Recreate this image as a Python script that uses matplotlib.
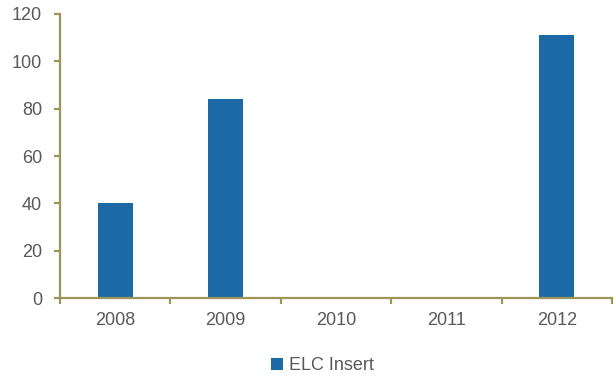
import numpy as np
import matplotlib.pyplot as plt
from matplotlib.patches import Patch

plt.rcParams['font.family'] = ['Liberation Sans', 'DejaVu Sans']

# data
years = ['2008', '2009', '2010', '2011', '2012']
elc_insert = [40, 84, 0, 0, 111]

bar_col = '#1B6AA5'
axis_col = '#9D9457'
text_col = '#595959'

fig = plt.figure(figsize=(6.16, 3.78), dpi=100)
ax = fig.add_axes([0.0974, 0.2116, 0.8961, 0.7514])

x = np.arange(len(years))
ax.bar(x, elc_insert, width=0.32, color=bar_col)

ax.set_xlim(-0.5, len(years) - 0.5)
ax.set_ylim(0, 120)
ax.set_yticks(np.arange(0, 121, 20))

# tick marks at category boundaries, labels at centres
ax.set_xticks(np.arange(len(years) + 1) - 0.5)
ax.set_xticklabels([])
ax.set_xticks(x, minor=True)
ax.set_xticklabels(years, minor=True)

for s in ['top', 'right']:
    ax.spines[s].set_visible(False)
for s in ['left', 'bottom']:
    ax.spines[s].set_color(axis_col)
    ax.spines[s].set_linewidth(1.6)

ax.tick_params(axis='y', which='major', length=4, width=1.6, color=axis_col,
               labelcolor=text_col, labelsize=13, pad=9)
ax.tick_params(axis='x', which='major', length=4, width=1.6, color=axis_col)
ax.tick_params(axis='x', which='minor', length=0, labelcolor=text_col,
               labelsize=13, pad=10)

handle = Patch(facecolor=bar_col, edgecolor='none')
leg = fig.legend([handle], ['ELC Insert'], loc='center',
                 bbox_to_anchor=(0.523, 0.032), frameon=False, fontsize=13,
                 handlelength=0.7, handleheight=0.7, handletextpad=0.3)
for t in leg.get_texts():
    t.set_color(text_col)

fig.savefig('out.png', dpi=100)
